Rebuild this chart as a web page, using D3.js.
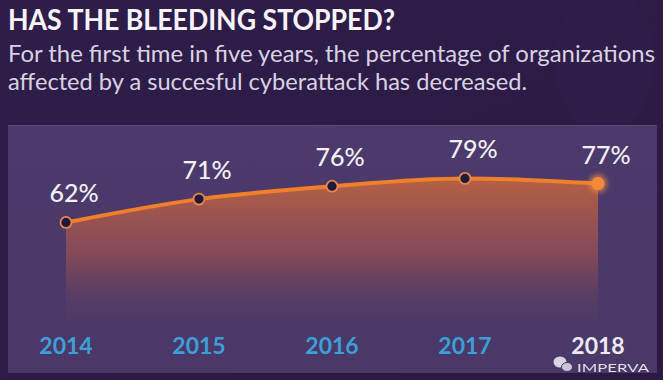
<!DOCTYPE html>
<html>
<head>
<meta charset="utf-8">
<script src="https://cdn.jsdelivr.net/npm/d3@7/dist/d3.min.js"></script>
<style>
html,body{margin:0;padding:0;background:#2c1b45;}
svg{display:block;}
text{font-family:Lato,"Open Sans",sans-serif;}
</style>
</head>
<body>
<svg id="chart" width="663" height="380"></svg>
<script>
const years = ["2014", "2015", "2016", "2017", "2018"];
const values = [62, 71, 76, 79, 77];
const valueLabels = ["62%", "71%", "76%", "79%", "77%"];
const title = "HAS THE BLEEDING STOPPED?";
const subtitleLines = [
  "For the first time in five years, the percentage of organizations",
  "affected by a succesful cyberattack has decreased."
];
const watermark = "IMPERVA";

const W = 663, H = 380;
const svg = d3.select("#chart");
const defs = svg.append("defs");

// background
const bgGrad = defs.append("linearGradient").attr("id","bg").attr("x1",0).attr("y1",0).attr("x2",1).attr("y2",1);
bgGrad.append("stop").attr("offset",0).attr("stop-color","#2f1d4a");
bgGrad.append("stop").attr("offset",1).attr("stop-color","#2a1a42");
svg.append("rect").attr("width",W).attr("height",H).attr("fill","url(#bg)");
// faint silhouette top-right
svg.append("ellipse").attr("cx",605).attr("cy",60).attr("rx",50).attr("ry",72).attr("fill","#3a2656").attr("opacity",0.18);

// panel
const panelGrad = defs.append("linearGradient").attr("id","panel").attr("x1",0).attr("y1",0).attr("x2",0).attr("y2",1);
panelGrad.append("stop").attr("offset",0).attr("stop-color","#4c3a6c");
panelGrad.append("stop").attr("offset",1).attr("stop-color","#4a3868");
svg.append("rect").attr("x",8).attr("y",125).attr("width",649).attr("height",248).attr("fill","url(#panel)");
svg.append("line").attr("x1",8).attr("x2",657).attr("y1",125.5).attr("y2",125.5).attr("stroke","#5a4879").attr("stroke-width",1);

// titles
svg.append("text").attr("x",8).attr("y",30).attr("fill","#f7f4f9")
  .attr("font-size",29).attr("font-weight",700)
  .attr("textLength",387).attr("lengthAdjust","spacingAndGlyphs").text(title);
const subW = [647, 519];
subtitleLines.forEach((t,i)=>{
  svg.append("text").attr("x",8).attr("y",62+i*28).attr("fill","#d8d2e1")
    .attr("font-size",23).attr("font-weight",400)
    .attr("textLength",subW[i]).attr("lengthAdjust","spacingAndGlyphs").text(t);
});

// scales
const x = d3.scalePoint().domain(years).range([66, 598]);
const y = d3.scaleLinear().domain([0, 100]).range([383, 124]);
const data = years.map((yr,i)=>({year:yr, value:values[i], label:valueLabels[i]}));

// area
const areaGrad = defs.append("linearGradient").attr("id","areaG").attr("gradientUnits","userSpaceOnUse")
  .attr("x1",0).attr("y1",178).attr("x2",0).attr("y2",338);
areaGrad.append("stop").attr("offset",0).attr("stop-color","#c8683c").attr("stop-opacity",0.85);
areaGrad.append("stop").attr("offset",0.5).attr("stop-color","#a5524f").attr("stop-opacity",0.6);
areaGrad.append("stop").attr("offset",1).attr("stop-color","#4b3a6b").attr("stop-opacity",0);
const area = d3.area().x(d=>x(d.year)).y0(340).y1(d=>y(d.value)).curve(d3.curveMonotoneX);
svg.append("path").datum(data).attr("d",area).attr("fill","url(#areaG)");

// line
const line = d3.line().x(d=>x(d.year)).y(d=>y(d.value)).curve(d3.curveMonotoneX);
svg.append("path").datum(data).attr("d",line).attr("fill","none")
  .attr("stroke","#f07f2c").attr("stroke-width",4).attr("stroke-linecap","round");

// glow filter
const f = defs.append("filter").attr("id","glow").attr("x","-100%").attr("y","-100%").attr("width","300%").attr("height","300%");
f.append("feGaussianBlur").attr("stdDeviation",2.5);

// markers
const last = data.length-1;
svg.selectAll("circle.pt").data(data.slice(0,last)).enter().append("circle")
  .attr("class","pt").attr("cx",d=>x(d.year)).attr("cy",d=>y(d.value)).attr("r",5.5)
  .attr("fill","#1f1a3c").attr("stroke","#e8874a").attr("stroke-width",1.8);
svg.append("circle").attr("cx",x(data[last].year)).attr("cy",y(data[last].value)).attr("r",9)
  .attr("fill","#f58a3a").attr("opacity",0.7).attr("filter","url(#glow)");
svg.append("circle").attr("cx",x(data[last].year)).attr("cy",y(data[last].value)).attr("r",6.5)
  .attr("fill","#f5893a");

// value labels
svg.selectAll("text.val").data(data).enter().append("text").attr("class","val")
  .attr("x",d=>x(d.year)+8).attr("y",d=>y(d.value)-20)
  .attr("text-anchor","middle").attr("fill","#f4f1f6")
  .attr("font-size",25).attr("font-weight",500).text(d=>d.label);

// year axis labels
svg.selectAll("text.yr").data(years).enter().append("text").attr("class","yr")
  .attr("x",d=>x(d)).attr("y",354).attr("text-anchor","middle")
  .attr("fill",(d,i)=> i===years.length-1 ? "#ecebf2" : "#3d9fd8")
  .attr("font-size",23).attr("font-weight",700).text(d=>d);

// watermark
const wm = svg.append("g").attr("opacity",0.9);
wm.append("ellipse").attr("cx",560).attr("cy",362).attr("rx",6.5).attr("ry",5.5).attr("fill","#e8e6ee");
wm.append("ellipse").attr("cx",567).attr("cy",367).attr("rx",5.5).attr("ry",4.5).attr("fill","#d9d6e2").attr("stroke","#4a3868").attr("stroke-width",1);
wm.append("text").attr("x",577).attr("y",372).attr("fill","#f2f0f6").attr("font-size",11)
  .attr("font-family","'Liberation Sans Narrow','Liberation Sans',sans-serif")
  .attr("textLength",72).attr("lengthAdjust","spacingAndGlyphs").text(watermark);
</script>
</body>
</html>
